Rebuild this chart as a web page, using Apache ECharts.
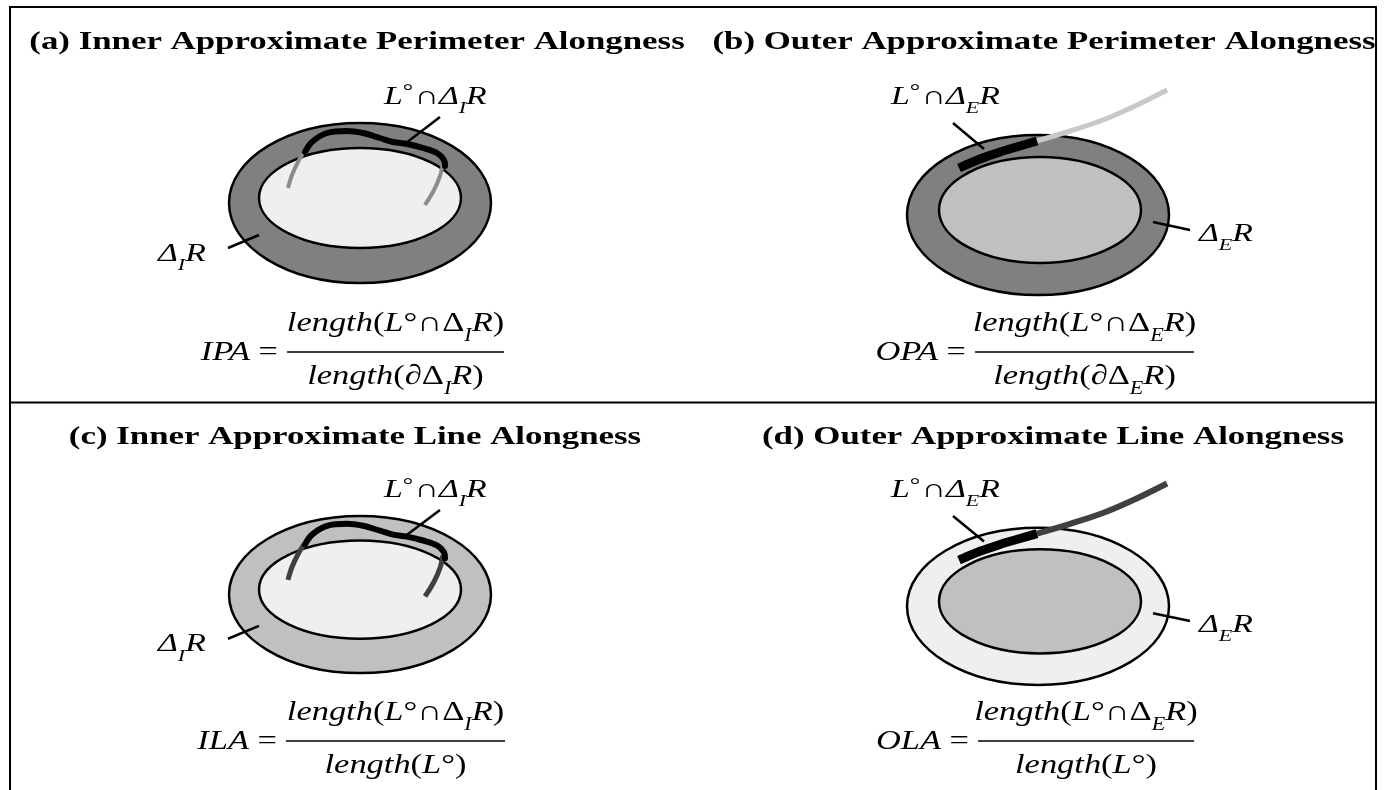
<!DOCTYPE html>
<html><head><meta charset="utf-8">
<script src="https://cdn.jsdelivr.net/npm/echarts@6/dist/echarts.min.js"></script>
<style>html,body{margin:0;padding:0;background:#fff}#chart{width:1392px;height:790px}</style>
</head><body><div id="chart"></div>
<script>
// ---------------- content ----------------
const panelTitles = [
  '(a) Inner Approximate Perimeter Alongness',
  '(b) Outer Approximate Perimeter Alongness',
  '(c) Inner Approximate Line Alongness',
  '(d) Outer Approximate Line Alongness'
];
const measureNames = ['IPA', 'OPA', 'ILA', 'OLA'];
const regionSubscripts = ['I', 'E', 'I', 'E'];
const denominatorKinds = ['boundary', 'boundary', 'line', 'line'];

// ellipses [cx, cy, rx, ry] in panel units
const innerCaseOuterEllipse = [350, 196, 131, 80];
const innerCaseInnerEllipse = [350, 191, 101, 50];
const outerCaseOuterEllipse = [348, 208, 131, 80];
const outerCaseInnerEllipse = [350, 203, 101, 53];

// the line L° (panel units)
const innerCaseIntersection = [[295,145],[302,135],[317,126],[337,124],[353,126],[370,131],[383,135],[397,137],[413,141],[427,146],[434,153],[435,159]];
const innerCaseLineLeft = [[294,145],[288,155],[282,168],[278,181]];
const innerCaseLineRight = [[433,156],[430,169],[424,183],[415,198]];
const outerCaseIntersection = [[269,161],[290,152],[310,145],[330,139],[347,134]];
const outerCaseLineTail = [[347,134],[380,124],[413,113],[445,99],[477,83]];

// leader lines [x1, y1, x2, y2]
const innerCaseLeaders = [[396,136,430,110],[218,241,249,228]];
const outerCaseLeaders = [[263,116,294,142],[463,215,500,223]];

// ---------------- layout & style ----------------
const PW = 683, PH = 395;
const gridOrigins = [[10,7],[690,7],[10,402],[690,402]];
const titleAnchors = [[347,35.5],[354,35.5],[345,35.5],[363,35.5]];
const innerCaseLabelAnchors = [[374,90],[148,247]];
const outerCaseLabelAnchors = [[201,90],[509,227]];
const formulaBars = [[277,494,345],[285,504,345],[276,495,345],[288,504,345]];
const regionFills = [['#808080','#efefef'],['#808080','#c0c0c0'],['#c0c0c0','#efefef'],['#efefef','#c0c0c0']];
const lineColors = ['#8c8c8c','#c8c8c8','#404040','#404040'];
const lineWidths = [4,5,5,6];

const SERIF = '"Liberation Serif","Times New Roman","DejaVu Serif",serif';

function richSet(size) {
  const sub = Math.round(size * 0.66);
  const deg = Math.round(size * 0.75);
  const lh = Math.round(size * 1.55);
  return {
    it: {fontFamily: SERIF, fontStyle: 'italic', fontWeight: 'normal', fontSize: size, lineHeight: lh},
    rm: {fontFamily: SERIF, fontStyle: 'normal', fontWeight: 'normal', fontSize: size, lineHeight: lh},
    deg: {fontFamily: SERIF, fontStyle: 'normal', fontWeight: 'normal', fontSize: deg, verticalAlign: 'top', padding: [6, 1, 0, 0]},
    sub: {fontFamily: SERIF, fontStyle: 'italic', fontWeight: 'normal', fontSize: sub, verticalAlign: 'bottom', lineHeight: sub}
  };
}

function textEl(text, x, y, size, scaleX, align, bold) {
  return {
    type: 'text', x: x, y: y, scaleX: scaleX, silent: true,
    style: {
      text: text, rich: bold ? undefined : richSet(size),
      fontFamily: SERIF, fontSize: size, fontWeight: bold ? 'bold' : 'normal',
      fill: '#000', align: align, verticalAlign: 'middle'
    }
  };
}

function intersectionLabel(s) { return '{it|L}{deg|°}{rm|∩}{it|Δ}{sub|' + s + '}{it|R}'; }
function regionLabel(s) { return '{it|Δ}{sub|' + s + '}{it|R}'; }
function numerator(s) { return '{it|length}{rm|(}{it|L}{rm|°∩Δ}{sub|' + s + '}{it|R}{rm|)}'; }
function denominator(kind, s) {
  return kind === 'boundary'
    ? '{it|length}{rm|(∂Δ}{sub|' + s + '}{it|R}{rm|)}'
    : '{it|length}{rm|(}{it|L}{rm|°)}';
}

function ellipseSeries(p, ellipses) {
  return {
    type: 'custom', xAxisIndex: p, yAxisIndex: p, silent: true, clip: false, z: 2,
    data: ellipses.map((e, i) => [e[0], e[1], e[2], e[3], i]),
    renderItem(params, api) {
      const c = api.coord([api.value(0), api.value(1)]);
      const s = api.size([api.value(2) * 2, api.value(3) * 2]);
      return {type: 'ellipse', shape: {cx: c[0], cy: c[1], rx: s[0] / 2, ry: s[1] / 2},
        style: {fill: regionFills[p][api.value(4)], stroke: '#000', lineWidth: 2.5}};
    }
  };
}

function curveSeries(p, pts, color, width, cap, z) {
  return {type: 'line', xAxisIndex: p, yAxisIndex: p, data: pts, smooth: 0.35, symbol: 'none',
    silent: true, z: z, lineStyle: {color: color, width: width, cap: cap, join: 'round'}};
}

function leaderSeries(p, leaders) {
  return {
    type: 'custom', xAxisIndex: p, yAxisIndex: p, silent: true, clip: false, z: 5,
    data: leaders,
    renderItem(params, api) {
      const a = api.coord([api.value(0), api.value(1)]);
      const b = api.coord([api.value(2), api.value(3)]);
      return {type: 'line', shape: {x1: a[0], y1: a[1], x2: b[0], y2: b[1]},
        style: {stroke: '#000', lineWidth: 2.5}};
    }
  };
}

function textSeries(p) {
  const inner = p % 2 === 0;
  const s = regionSubscripts[p];
  const anchors = inner ? innerCaseLabelAnchors : outerCaseLabelAnchors;
  const items = [
    {value: titleAnchors[p], text: panelTitles[p], kind: 'title'},
    {value: anchors[0], text: intersectionLabel(s), kind: 'label'},
    {value: anchors[1], text: regionLabel(s), kind: 'label'}
  ];
  return {
    type: 'custom', xAxisIndex: p, yAxisIndex: p, silent: true, clip: false, z: 6,
    data: items.map(d => d.value),
    renderItem(params, api) {
      const d = items[params.dataIndex];
      const c = api.coord([api.value(0), api.value(1)]);
      if (d.kind === 'title') return textEl(d.text, c[0], c[1], 26, 1.34, 'center', true);
      return textEl(d.text, c[0], c[1], 26, 1.3, 'left', false);
    }
  };
}

function formulaSeries(p) {
  const s = regionSubscripts[p];
  return {
    type: 'custom', xAxisIndex: p, yAxisIndex: p, silent: true, clip: false, z: 6,
    data: [formulaBars[p]],
    renderItem(params, api) {
      const a = api.coord([api.value(0), api.value(2)]);
      const b = api.coord([api.value(1), api.value(2)]);
      const mid = (a[0] + b[0]) / 2;
      return {type: 'group', children: [
        {type: 'line', shape: {x1: a[0], y1: a[1], x2: b[0], y2: b[1]}, style: {stroke: '#000', lineWidth: 1.5}},
        textEl('{it|' + measureNames[p] + '}{rm| =}', a[0] - 9, a[1] + 0.5, 28, 1.23, 'right', false),
        textEl(numerator(s), mid, a[1] - 28, 28, 1.23, 'center', false),
        textEl(denominator(denominatorKinds[p], s), mid, a[1] + 24.5, 28, 1.23, 'center', false)
      ]};
    }
  };
}

const series = [];
for (let p = 0; p < 4; p++) {
  const inner = p % 2 === 0;
  series.push(ellipseSeries(p, inner ? [innerCaseOuterEllipse, innerCaseInnerEllipse] : [outerCaseOuterEllipse, outerCaseInnerEllipse]));
  if (inner) {
    series.push(curveSeries(p, innerCaseLineLeft, lineColors[p], lineWidths[p], 'butt', 3));
    series.push(curveSeries(p, innerCaseLineRight, lineColors[p], lineWidths[p], 'butt', 3));
    series.push(curveSeries(p, innerCaseIntersection, '#000', 6, 'round', 4));
  } else {
    series.push(curveSeries(p, outerCaseLineTail, lineColors[p], lineWidths[p], 'butt', 3));
    series.push(curveSeries(p, outerCaseIntersection, '#000', 9, 'butt', 4));
  }
  series.push(leaderSeries(p, inner ? innerCaseLeaders : outerCaseLeaders));
  series.push(textSeries(p));
  series.push(formulaSeries(p));
}

const option = {
  animation: false,
  backgroundColor: '#ffffff',
  grid: gridOrigins.map(g => ({left: g[0], top: g[1], width: PW, height: PH, show: false, containLabel: false})),
  xAxis: gridOrigins.map((g, i) => ({type: 'value', gridIndex: i, min: 0, max: PW, show: false})),
  yAxis: gridOrigins.map((g, i) => ({type: 'value', gridIndex: i, min: 0, max: PH, inverse: true, show: false})),
  graphic: [
    {type: 'rect', silent: true, shape: {x: 10, y: 7, width: 1366, height: 820}, style: {fill: 'none', stroke: '#000', lineWidth: 2}},
    {type: 'line', silent: true, shape: {x1: 10, y1: 402.5, x2: 1376, y2: 402.5}, style: {stroke: '#000', lineWidth: 2}}
  ],
  series: series
};

const chart = echarts.init(document.getElementById('chart'), null, {renderer: 'canvas'});
chart.setOption(option);
</script>
</body></html>
